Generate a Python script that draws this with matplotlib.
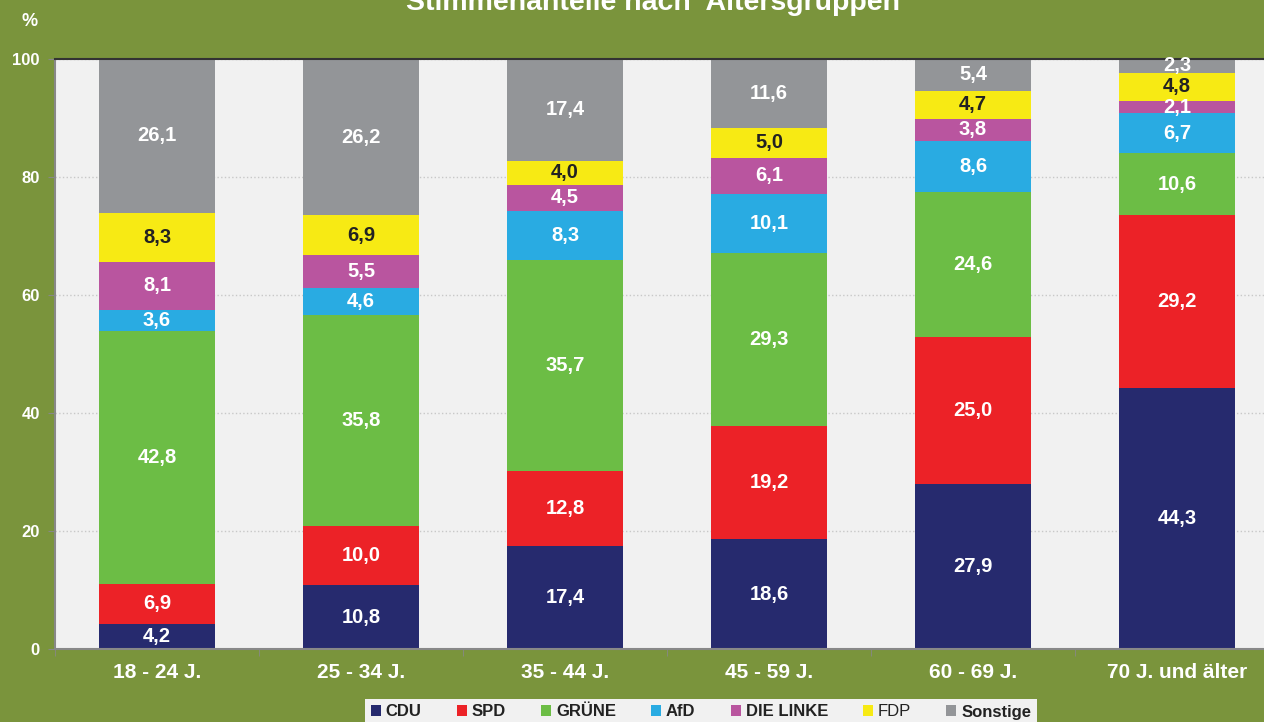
import matplotlib.pyplot as plt
import numpy as np
from matplotlib.patches import Patch

plt.rcParams['font.family'] = ['Liberation Sans', 'DejaVu Sans']

gruppen = ["18 - 24 J.", "25 - 34 J.", "35 - 44 J.", "45 - 59 J.", "60 - 69 J.", "70 J. und älter"]
parteien = ["CDU", "SPD", "GRÜNE", "AfD", "DIE LINKE", "FDP", "Sonstige"]
cdu = [4.2, 10.8, 17.4, 18.6, 27.9, 44.3]
spd = [6.9, 10.0, 12.8, 19.2, 25.0, 29.2]
gruene = [42.8, 35.8, 35.7, 29.3, 24.6, 10.6]
afd = [3.6, 4.6, 8.3, 10.1, 8.6, 6.7]
linke = [8.1, 5.5, 4.5, 6.1, 3.8, 2.1]
fdp = [8.3, 6.9, 4.0, 5.0, 4.7, 4.8]
sonstige = [26.1, 26.2, 17.4, 11.6, 5.4, 2.3]

farben = ["#262a6e", "#ec2227", "#6cbd45", "#29abe2", "#b9559f", "#f7ea14", "#939598"]
textfarben = ["white", "white", "white", "white", "white", "#222222", "white"]

bg = "#7a943c"
fig = plt.figure(figsize=(12.64, 7.22), dpi=100, facecolor=bg)
# plot area: x 55..1279 px, y 59..649 px
ax = fig.add_axes([55 / 1264, 1 - 649 / 722, 1224 / 1264, 590 / 722])
ax.set_facecolor("#f1f1f1")

x = np.arange(len(gruppen))
bottom = np.zeros(len(gruppen))
for werte, farbe, tf in zip([cdu, spd, gruene, afd, linke, fdp, sonstige], farben, textfarben):
    werte = np.array(werte)
    ax.bar(x, werte, width=0.57, bottom=bottom, color=farbe, edgecolor="none", zorder=2)
    for xi, b, v in zip(x, bottom, werte):
        ax.text(xi, b + v / 2, f"{v:.1f}".replace(".", ","), ha="center", va="center",
                color=tf, fontsize=14.5, fontweight="bold", zorder=3)
    bottom += werte

ax.set_xlim(-0.5, 5.5)
ax.set_ylim(0, 100)
ax.set_yticks([0, 20, 40, 60, 80, 100])
ax.set_yticklabels(["0", "20", "40", "60", "80", "100"], color="white", fontsize=12, fontweight="bold")
ax.set_xticks(x)
ax.set_xticklabels(gruppen, color="white", fontsize=15, fontweight="bold")
ax.tick_params(axis="x", length=0, pad=10)
ax.tick_params(axis="y", length=5, color="#888888", pad=6)
ax.set_xticks(np.arange(-0.5, 6, 1), minor=True)
ax.tick_params(axis="x", which="minor", length=5, color="#888888")
ax.yaxis.grid(True, linestyle=":", color="#c8c8c8", linewidth=1, zorder=0)
ax.set_axisbelow(True)
ax.spines["right"].set_visible(False)
ax.spines["top"].set_color("#333333")
ax.spines["top"].set_linewidth(1.5)
ax.spines["left"].set_color("#888888")
ax.spines["bottom"].set_color("#888888")
ax.spines["left"].set_linewidth(1.5)
ax.spines["bottom"].set_linewidth(1.5)

fig.text(653 / 1264, 1 - 3 / 722, "Stimmenanteile nach  Altersgruppen", ha="center", va="center",
         color="white", fontsize=20.5, fontweight="bold")
fig.text(30 / 1264, 1 - 22 / 722, "%", ha="center", va="center", color="white",
         fontsize=13, fontweight="bold")

handles = [Patch(facecolor=f, edgecolor="none") for f in farben]
leg = fig.legend(handles, parteien, ncol=7, loc="center", bbox_to_anchor=(701 / 1264, 1 - 712 / 722),
                 frameon=True, facecolor="#f1f1f1", edgecolor="none", fancybox=False, framealpha=1,
                 handlelength=0.6, handleheight=0.6, handletextpad=0.3, columnspacing=2.1,
                 borderpad=0.35, borderaxespad=0,
                 prop={"size": 12, "weight": "bold", "family": ["Liberation Sans Narrow", "Liberation Sans"]})
for t in leg.get_texts():
    t.set_color("#222222")
    if t.get_text() == "FDP":
        t.set_fontweight("normal")

fig.savefig("out.png", dpi=100, facecolor=bg)
